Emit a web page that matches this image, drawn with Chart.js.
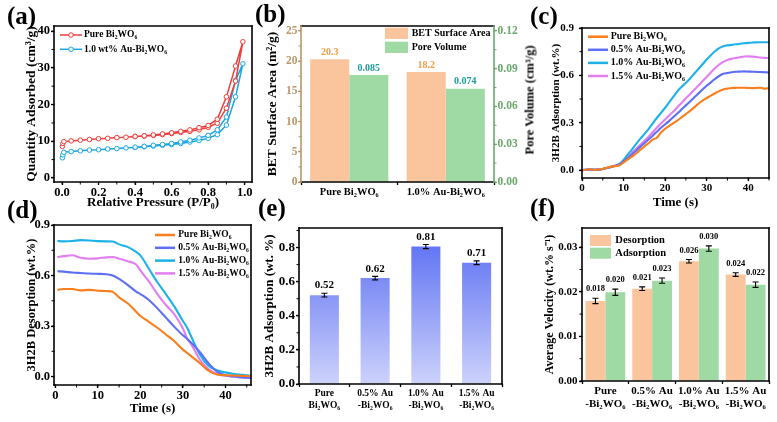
<!DOCTYPE html>
<html>
<head>
<meta charset="utf-8">
<title>Bi2WO6 adsorption figure</title>
<script src="https://cdn.jsdelivr.net/npm/chart.js@4.4.1/dist/chart.umd.min.js"></script>
<style>
  body { margin: 0; background: #fff; }
  #fig { position: relative; width: 777px; height: 422px; overflow: hidden; background: #fff; }
  #fig canvas { position: absolute; }
  .tag { position: absolute; font: bold 25px 'Liberation Serif', serif; line-height: 25px; color: #000; }
  .side { position: absolute; font: bold 12.5px 'Liberation Serif', serif; white-space: nowrap; color: #000;
          transform: translate(-50%, -50%) rotate(-90deg); }
</style>
</head>
<body>
<div id="fig">
  <canvas id="cA" width="258" height="196" style="left:0;top:16px"></canvas>
  <canvas id="cB" width="282" height="196" style="left:258px;top:16px"></canvas>
  <canvas id="cC" width="237" height="196" style="left:540px;top:16px"></canvas>
  <canvas id="cD" width="264" height="210" style="left:0;top:212px"></canvas>
  <canvas id="cE" width="262" height="210" style="left:258px;top:212px"></canvas>
  <canvas id="cF" width="257" height="210" style="left:520px;top:212px"></canvas>
  <div class="tag" style="left:7px;top:3px">(a)</div>
  <div class="tag" style="left:255px;top:1px">(b)</div>
  <div class="tag" style="left:530px;top:3px">(c)</div>
  <div class="tag" style="left:7px;top:197px">(d)</div>
  <div class="tag" style="left:258px;top:195px">(e)</div>
  <div class="tag" style="left:530px;top:195px">(f)</div>
  <div class="side" style="left:530px;top:100px">Pore Volume (cm³/g)</div>
</div>
<script>
// ---- data ----
// (a) N2 isotherms, adsorption branch then desorption branch
const aP = [0.002, 0.005, 0.01, 0.05, 0.1, 0.15, 0.2, 0.25, 0.3, 0.35, 0.4, 0.45, 0.5, 0.55, 0.6, 0.65, 0.7, 0.75, 0.8, 0.85, 0.9, 0.95, 0.99,
            0.95, 0.9, 0.85, 0.8, 0.75, 0.7, 0.65, 0.6, 0.55, 0.5, 0.45, 0.4];
const aPure = [8.6, 9.4, 9.9, 10.1, 10.3, 10.5, 10.7, 10.8, 11.0, 11.1, 11.3, 11.4, 11.6, 11.8, 12.1, 12.4, 12.7, 13.1, 13.8, 14.9, 19.0, 26.4, 37.1,
               30.5, 22.1, 16.0, 14.3, 13.7, 13.1, 12.7, 12.3, 12.0, 11.7, 11.5, 11.3];
const aAu = [5.5, 6.3, 7.0, 7.2, 7.4, 7.6, 7.7, 7.9, 8.0, 8.2, 8.3, 8.5, 8.7, 8.9, 9.1, 9.4, 9.8, 10.2, 10.8, 11.8, 14.4, 22.1, 31.1,
             26.6, 16.6, 13.1, 11.6, 10.9, 10.3, 9.8, 9.4, 9.1, 8.9, 8.6, 8.4];
const aXTicks = [0, 0.2, 0.4, 0.6, 0.8, 1.0];
const aYTicks = [0, 10, 20, 30, 40];

// (b) BET
const bCats = ['Pure Bi₂WO₆', '1.0% Au-Bi₂WO₆'];
const bBET = [20.3, 18.2];
const bPore = [0.085, 0.074];
const bYTicks = [0, 5, 10, 15, 20, 25];
const bY2Ticks = [0, 0.03, 0.06, 0.09, 0.12];

// (c) adsorption kinetics
const samples = ['Pure Bi₂WO₆', '0.5% Au-Bi₂WO₆', '1.0% Au-Bi₂WO₆', '1.5% Au-Bi₂WO₆'];
const cTime = [0, 1, 2, 3, 4, 5, 6, 7, 8, 9, 10, 11, 12, 13, 14, 15, 16, 17, 18, 19, 20, 21, 22, 23, 24, 25, 26, 27, 28, 29,
               30, 31, 32, 33, 34, 35, 36, 37, 38, 39, 40, 41, 42, 43, 44, 45];
const cPure = [0, 0.002, 0.005, 0.002, 0.003, 0.008, 0.015, 0.022, 0.025, 0.03, 0.048, 0.068, 0.085, 0.105, 0.128, 0.15, 0.17, 0.193, 0.205, 0.238,
               0.262, 0.28, 0.298, 0.315, 0.335, 0.355, 0.375, 0.397, 0.42, 0.44, 0.456, 0.472, 0.487, 0.5, 0.511, 0.516, 0.52, 0.521, 0.522, 0.522,
               0.52, 0.519, 0.521, 0.522, 0.515, 0.52];
const c05 = [0, 0.002, 0.004, 0.002, 0.003, 0.007, 0.013, 0.02, 0.027, 0.036, 0.055, 0.076, 0.099, 0.123, 0.147, 0.17, 0.194, 0.218, 0.243, 0.268,
             0.29, 0.312, 0.336, 0.36, 0.385, 0.41, 0.435, 0.46, 0.485, 0.51, 0.534, 0.556, 0.577, 0.596, 0.61, 0.615, 0.62, 0.623, 0.624, 0.625,
             0.624, 0.623, 0.622, 0.621, 0.62, 0.618];
const c10 = [0, 0.002, 0.004, 0.002, 0.003, 0.007, 0.013, 0.02, 0.028, 0.04, 0.065, 0.098, 0.13, 0.165, 0.198, 0.228, 0.26, 0.295, 0.33, 0.362,
             0.395, 0.43, 0.465, 0.5, 0.528, 0.553, 0.58, 0.61, 0.64, 0.67, 0.7, 0.728, 0.753, 0.773, 0.785, 0.79, 0.793, 0.797, 0.8, 0.803,
             0.806, 0.808, 0.809, 0.81, 0.81, 0.81];
const c15 = [0, 0.002, 0.004, 0.002, 0.003, 0.007, 0.013, 0.02, 0.027, 0.036, 0.056, 0.08, 0.108, 0.134, 0.16, 0.185, 0.21, 0.24, 0.268, 0.295,
             0.32, 0.346, 0.372, 0.4, 0.427, 0.455, 0.481, 0.508, 0.535, 0.563, 0.59, 0.618, 0.645, 0.668, 0.686, 0.698, 0.705, 0.71, 0.715, 0.719,
             0.72, 0.719, 0.716, 0.713, 0.711, 0.71];

// (d) desorption kinetics
const dTime = [0.5, 2, 4, 6, 8, 10, 12, 13.5, 15, 17, 19, 20, 22, 24, 26, 28, 30, 31, 32, 34, 36, 38, 40, 42, 44, 46];
const dPure = [0.515, 0.52, 0.52, 0.512, 0.515, 0.51, 0.508, 0.503, 0.47, 0.435, 0.385, 0.36, 0.325, 0.29, 0.25, 0.21, 0.16, 0.14, 0.12, 0.08,
               0.035, 0.012, 0.008, 0.006, 0.004, 0.002];
const d05 = [0.625, 0.623, 0.618, 0.615, 0.612, 0.61, 0.608, 0.6, 0.58, 0.545, 0.505, 0.49, 0.455, 0.405, 0.35, 0.295, 0.245, 0.225, 0.2, 0.145,
             0.08, 0.03, 0.008, 0, -0.005, -0.008];
const d10 = [0.805, 0.803, 0.805, 0.81, 0.808, 0.804, 0.803, 0.802, 0.785, 0.77, 0.74, 0.72, 0.64, 0.56, 0.49, 0.415, 0.33, 0.29, 0.235, 0.13,
             0.065, 0.038, 0.025, 0.015, 0.01, 0.005];
const d15 = [0.71, 0.715, 0.72, 0.705, 0.7, 0.702, 0.708, 0.71, 0.7, 0.685, 0.665, 0.63, 0.565, 0.49, 0.425, 0.37, 0.285, 0.225, 0.19, 0.1,
             0.045, 0.015, 0.005, 0, -0.005, -0.005];
const tTicks = [0, 10, 20, 30, 40];
const wtTicks = [0, 0.3, 0.6, 0.9];

// (e) total adsorption
const eCats = [['Pure', 'Bi₂WO₆'], ['0.5% Au', '-Bi₂WO₆'], ['1.0% Au', '-Bi₂WO₆'], ['1.5% Au', '-Bi₂WO₆']];
const eAds = [0.521, 0.621, 0.806, 0.711];
const eErr = [0.011, 0.01, 0.012, 0.011];
const eYTicks = [0, 0.2, 0.4, 0.6, 0.8];

// (f) average velocity
const fCats = [['Pure', '-Bi₂WO₆'], ['0.5% Au', '-Bi₂WO₆'], ['1.0% Au', '-Bi₂WO₆'], ['1.5% Au', '-Bi₂WO₆']];
const fDes = [0.01795, 0.0207, 0.02685, 0.02386];
const fDesErr = [0.0006, 0.0004, 0.0004, 0.0004];
const fDesText = ['0.018', '0.021', '0.026', '0.024'];
const fAds = [0.0199, 0.0225, 0.0297, 0.0216];
const fAdsErr = [0.0007, 0.0006, 0.0006, 0.0006];
const fAdsText = ['0.020', '0.023', '0.030', '0.022'];
const fYTicks = [0, 0.01, 0.02, 0.03];

// ---- styling helpers ----
const SERIF = "'Liberation Serif', 'Times New Roman', serif";
const lineColors = ['#fb7d1c', '#5d6ff2', '#1cb2e8', '#e27ef2'];
const bold = (size, lh) => ({ family: SERIF, size: size, weight: 'bold', lineHeight: lh || 1.2 });

function axis(o) {
  const s = {
    type: o.type || 'linear',
    position: o.position,
    border: { display: false },
    grid: { drawOnChartArea: false, drawTicks: true, tickLength: 3, tickWidth: 1.3,
            tickColor: o.color || '#000', offset: o.type === 'category' },
    ticks: { font: bold(o.fs, o.lh), color: o.color || '#000', padding: o.pad || 0, maxRotation: 0, autoSkip: false },
    title: { display: !!o.title, text: o.title, font: bold(o.tfs || 12), color: '#000', padding: o.tpad || 0 },
    afterFit: sc => { if (sc.isHorizontal()) sc.height = o.size; else sc.width = o.size; }
  };
  if (o.min !== undefined) s.min = o.min;
  if (o.max !== undefined) s.max = o.max;
  if (o.list) s.afterBuildTicks = sc => { sc.ticks = o.list.map(v => ({ value: v })); };
  if (o.fmt) s.ticks.callback = o.fmt;
  return s;
}

function base(padTop, padRight) {
  return {
    responsive: false, animation: false, devicePixelRatio: 1,
    layout: { padding: { left: 0, top: padTop, right: padRight, bottom: 0 } },
    plugins: { legend: { display: false }, tooltip: { enabled: false } }
  };
}

// box around the plot area, plus small minor ticks
function makeFrame(o) {
  return {
    id: 'frame',
    afterDraw(chart) {
      const ctx = chart.ctx, a = chart.chartArea;
      ctx.save();
      ctx.lineWidth = 1.6;
      ctx.lineCap = 'square';
      const side = (c, x1, y1, x2, y2) => {
        ctx.strokeStyle = c; ctx.beginPath(); ctx.moveTo(x1, y1); ctx.lineTo(x2, y2); ctx.stroke();
      };
      side('#000', a.left, a.top, a.right, a.top);
      side('#000', a.left, a.bottom, a.right, a.bottom);
      side(o.left || '#000', a.left, a.top, a.left, a.bottom);
      side(o.right || '#000', a.right, a.top, a.right, a.bottom);
      ctx.lineWidth = 1;
      Object.keys(o.minor || {}).forEach(id => {
        const sc = chart.scales[id], step = o.minor[id];
        ctx.strokeStyle = sc.options.ticks.color;
        for (let k = Math.ceil(sc.min / step); k * step <= sc.max + 1e-9; k++) {
          const p = sc.getPixelForValue(k * step);
          ctx.beginPath();
          if (sc.position === 'left') { ctx.moveTo(a.left, p); ctx.lineTo(a.left - 2, p); }
          else if (sc.position === 'right') { ctx.moveTo(a.right, p); ctx.lineTo(a.right + 2, p); }
          else { ctx.moveTo(p, a.bottom); ctx.lineTo(p, a.bottom + 2); }
          ctx.stroke();
        }
      });
      ctx.restore();
    }
  };
}

// legend drawn inside the plot area
function makeLegend(o) {
  return {
    id: 'innerLegend',
    afterDraw(chart) {
      const ctx = chart.ctx, a = chart.chartArea;
      ctx.save();
      ctx.font = 'bold ' + o.fs + 'px ' + SERIF;
      ctx.textBaseline = 'middle';
      ctx.textAlign = 'left';
      chart.data.datasets.forEach((ds, i) => {
        const x = a.left + o.x, y = a.top + o.y + i * o.dy;
        if (o.box) {
          ctx.fillStyle = ds.backgroundColor;
          ctx.fillRect(x, y - o.h / 2, o.w, o.h);
        } else {
          ctx.strokeStyle = ds.borderColor; ctx.lineWidth = o.lw;
          ctx.beginPath(); ctx.moveTo(x, y); ctx.lineTo(x + o.w, y); ctx.stroke();
          if (o.marker) {
            ctx.beginPath(); ctx.arc(x + o.w / 2, y, 2.3, 0, Math.PI * 2);
            ctx.fillStyle = '#fff'; ctx.fill(); ctx.lineWidth = 1; ctx.stroke();
          }
        }
        ctx.fillStyle = '#000';
        ctx.fillText(ds.label, x + o.w + o.gap, y);
      });
      ctx.restore();
    }
  };
}

// error bars and value labels on bars
function makeBarMarks(o) {
  return {
    id: 'barMarks',
    afterDatasetsDraw(chart) {
      const ctx = chart.ctx;
      ctx.save();
      chart.data.datasets.forEach((ds, i) => {
        const meta = chart.getDatasetMeta(i);
        const ys = chart.scales[meta.yAxisID];
        meta.data.forEach((bar, j) => {
          const v = ds.data[j], e = ds.errors ? ds.errors[j] : 0;
          const top = ys.getPixelForValue(v + e);
          if (e) {
            const bot = ys.getPixelForValue(v - e);
            ctx.strokeStyle = '#000'; ctx.lineWidth = 1.1;
            ctx.beginPath();
            ctx.moveTo(bar.x, top); ctx.lineTo(bar.x, bot);
            ctx.moveTo(bar.x - o.cap, top); ctx.lineTo(bar.x + o.cap, top);
            ctx.moveTo(bar.x - o.cap, bot); ctx.lineTo(bar.x + o.cap, bot);
            ctx.stroke();
          }
          ctx.font = 'bold ' + o.fs + 'px ' + SERIF;
          ctx.textAlign = 'center'; ctx.textBaseline = 'middle';
          ctx.fillStyle = ds.textColor || '#000';
          ctx.fillText(ds.texts[j], bar.x, top - o.gap);
        });
      });
      ctx.restore();
    }
  };
}

const fix1 = v => v.toFixed(1);
const fix2 = v => v.toFixed(2);
const int0 = v => String(v);

// ---- (a) ----
function isotherm(label, ys, color) {
  return {
    label: label, data: aP.map((p, i) => ({ x: p, y: ys[i] })),
    borderColor: color, borderWidth: 1.5, tension: 0,
    pointRadius: 2.3, pointBorderWidth: 1, pointBorderColor: color, pointBackgroundColor: '#fff'
  };
}
new Chart(document.getElementById('cA'), {
  type: 'line',
  data: { datasets: [isotherm('Pure Bi₂WO₆', aPure, '#f23c3c'), isotherm('1.0 wt% Au-Bi₂WO₆', aAu, '#1aa7e2')] },
  options: Object.assign(base(10, 6), {
    scales: {
      x: axis({ position: 'bottom', min: -0.044, max: 1.04, list: aXTicks, fmt: fix1, fs: 12.5, size: 30,
                title: 'Relative Pressure (P/P₀)', tfs: 13, tpad: { top: 0, bottom: 1.2 } }),
      y: axis({ position: 'left', min: -1.1, max: 41.4, list: aYTicks, fmt: int0, fs: 12.5, pad: 1, size: 54,
                title: 'Quantity Adsorbed (cm³/g)', tfs: 13.5, tpad: { top: 23.9, bottom: 0 } })
    }
  }),
  plugins: [makeFrame({ minor: { x: 0.1, y: 5 } }),
            makeLegend({ x: 6, y: 9, dy: 14.3, w: 22, gap: 2, lw: 1.5, marker: true, fs: 9.5 })]
});

// ---- (b) ----
new Chart(document.getElementById('cB'), {
  type: 'bar',
  data: {
    labels: bCats,
    datasets: [
      { label: 'BET Surface Area', data: bBET, yAxisID: 'y', backgroundColor: '#fac59d',
        texts: bBET.map(fix1), textColor: '#f29c45' },
      { label: 'Pore Volume', data: bPore, yAxisID: 'y2', backgroundColor: '#9fd9a3',
        texts: bPore.map(v => v.toFixed(3)), textColor: '#1f9c9c' }
    ]
  },
  options: Object.assign(base(10, 0), {
    datasets: { bar: { categoryPercentage: 0.81, barPercentage: 1 } },
    scales: {
      x: axis({ type: 'category', position: 'bottom', fs: 10.5, pad: 1, size: 30 }),
      y: axis({ position: 'left', min: 0, max: 25.8, list: bYTicks, fmt: int0, fs: 11.5, pad: 0.5, color: '#b9966c', size: 43,
                title: 'BET Surface Area (m²/g)', tfs: 13.5, tpad: { top: 6.9, bottom: 0 } }),
      y2: axis({ position: 'right', min: 0, max: 0.12384, list: bY2Ticks, fmt: fix2, fs: 11.5, pad: 0.5, color: '#6aa86c', size: 46 })
    }
  }),
  plugins: [makeFrame({ left: '#b9966c', right: '#6aa86c', minor: { y: 2.5, y2: 0.015 } }),
            makeBarMarks({ fs: 10, gap: 7, cap: 0 }),
            makeLegend({ box: true, x: 84, y: 7.3, dy: 14, w: 23, h: 11.3, gap: 3.7, fs: 10 })]
});

// ---- (c) and (d) ----
function kinetics(times, series) {
  return series.map((ys, k) => ({
    label: samples[k], data: times.map((t, i) => ({ x: t, y: ys[i] })),
    borderColor: lineColors[k], borderWidth: 2.1, pointRadius: 0, tension: 0.3, cubicInterpolationMode: 'monotone'
  }));
}
new Chart(document.getElementById('cC'), {
  type: 'line',
  data: { datasets: kinetics(cTime, [cPure, c05, c10, c15]) },
  options: Object.assign(base(12, 8), {
    scales: {
      x: axis({ position: 'bottom', min: 0, max: 45, list: tTicks, fmt: int0, fs: 11, pad: 0.5, size: 34,
                title: 'Time (s)', tfs: 13, tpad: { top: 0, bottom: 1.5 } }),
      y: axis({ position: 'left', min: -0.05, max: 0.9, list: wtTicks, fmt: fix1, fs: 11, pad: 5, size: 42,
                title: '3H2B Adsorption (wt.%)', tfs: 11, tpad: { top: 9.1, bottom: 0 } })
    }
  }),
  plugins: [makeFrame({ minor: { x: 5, y: 0.15 } }),
            makeLegend({ x: 6, y: 8.7, dy: 13.1, w: 20, gap: 2.7, lw: 2.5, fs: 10 })]
});

new Chart(document.getElementById('cD'), {
  type: 'line',
  data: { datasets: kinetics(dTime, [dPure, d05, d10, d15]) },
  options: Object.assign(base(13, 13), {
    scales: {
      x: axis({ position: 'bottom', min: -0.3, max: 46, list: tTicks, fmt: int0, fs: 12.5, pad: 0, size: 37,
                title: 'Time (s)', tfs: 13, tpad: { top: 0, bottom: 5.2 } }),
      y: axis({ position: 'left', min: -0.05, max: 0.9, list: wtTicks, fmt: fix1, fs: 12.5, pad: 1, size: 54,
                title: '3H2B Desorption (wt.%)', tfs: 12.5, tpad: { top: 24.5, bottom: 0 } })
    }
  }),
  plugins: [makeFrame({ minor: { x: 5, y: 0.15 } }),
            makeLegend({ x: 101, y: 10, dy: 12.8, w: 20, gap: 3.3, lw: 2.5, fs: 9.5 })]
});

// ---- (e) ----
new Chart(document.getElementById('cE'), {
  type: 'bar',
  data: {
    labels: eCats,
    datasets: [{
      label: '3H2B Adsorption', data: eAds, errors: eErr, texts: eAds.map(fix2),
      backgroundColor: c => {
        const a = c.chart.chartArea;
        if (!a) return '#8090f5';
        const g = c.chart.ctx.createLinearGradient(0, a.top, 0, a.bottom);
        g.addColorStop(0, '#5569f3');
        g.addColorStop(1, '#cdd2fb');
        return g;
      }
    }]
  },
  options: Object.assign(base(16, 18), {
    datasets: { bar: { categoryPercentage: 0.8, barPercentage: 0.716 } },
    scales: {
      x: axis({ type: 'category', position: 'bottom', fs: 9.5, lh: 1.25, pad: 0.5, size: 38 }),
      y: axis({ position: 'left', min: 0, max: 0.915, list: eYTicks, fmt: fix1, fs: 13, pad: 1, size: 41,
                title: '3H2B Adsorption (wt. %)', tfs: 13, tpad: { top: 4.2, bottom: 0 } })
    }
  }),
  plugins: [makeFrame({ minor: { y: 0.1 } }), makeBarMarks({ fs: 11, gap: 7.7, cap: 3 })]
});

// ---- (f) ----
new Chart(document.getElementById('cF'), {
  type: 'bar',
  data: {
    labels: fCats,
    datasets: [
      { label: 'Desorption', data: fDes, errors: fDesErr, texts: fDesText, backgroundColor: '#fac59d' },
      { label: 'Adsorption', data: fAds, errors: fAdsErr, texts: fAdsText, backgroundColor: '#9fd9a3' }
    ]
  },
  options: Object.assign(base(16, 8), {
    datasets: { bar: { categoryPercentage: 0.85, barPercentage: 1 } },
    scales: {
      x: axis({ type: 'category', position: 'bottom', fs: 11, lh: 1.25, pad: 0, size: 41 }),
      y: axis({ position: 'left', min: 0, max: 0.0343, list: fYTicks, fmt: fix2, fs: 11, pad: 1.5, size: 62,
                title: 'Average Velocity (wt.% s⁻¹)', tfs: 12, tpad: { top: 22.8, bottom: 0 } })
    }
  }),
  plugins: [makeFrame({ minor: { y: 0.005 } }),
            makeBarMarks({ fs: 8.5, gap: 9, cap: 3 }),
            makeLegend({ box: true, x: 8, y: 12.5, dy: 12.7, w: 21, h: 11, gap: 4.3, fs: 10.5 })]
});
</script>
</body>
</html>
